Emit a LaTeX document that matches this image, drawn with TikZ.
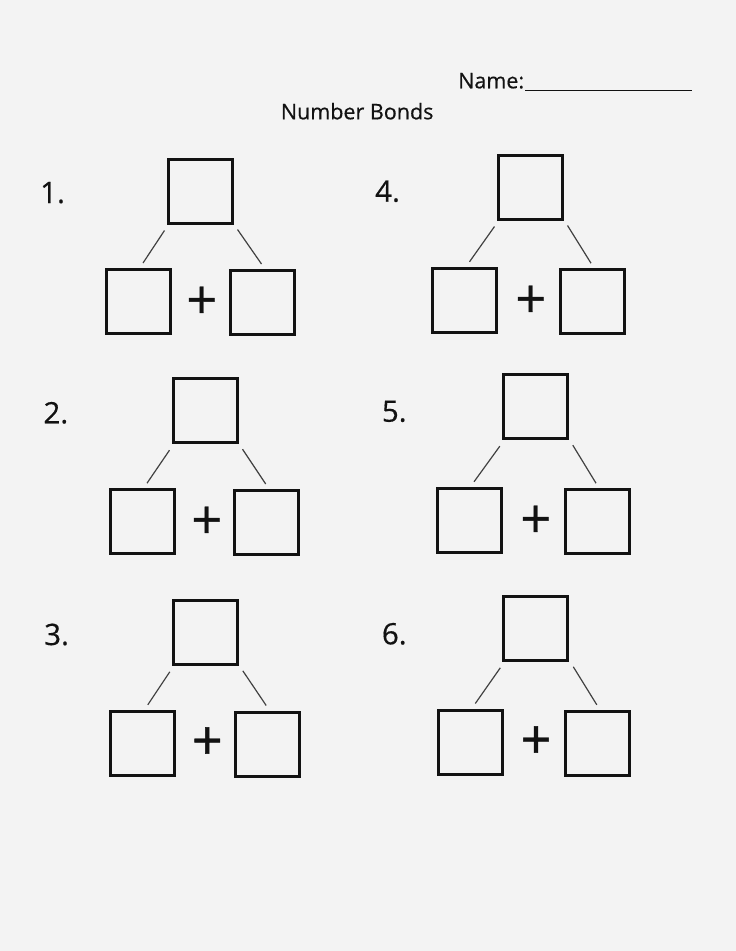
\documentclass[tikz,border=0pt]{standalone}
\usepackage{fontspec}
\setmainfont{Open Sans}[FakeBold=0.5]
\newfontfamily\plusfont{Open Sans}[FakeBold=0.8]
\definecolor{paper}{RGB}{243,243,243}
\definecolor{ink}{RGB}{18,18,18}
\newcommand\mybond[7]{%
  \node[numlbl] (lab#1) at (#3) {#2};
  \node[bx] (t#1) at (#4) {};
  \node[bx] (l#1) at (#5) {};
  \node[bx] (r#1) at (#6) {};
  \node[plussign] (p#1) at (#7) {+};
  \draw[bondline] ([shift={(-2,6)}]t#1.south west) -- ([shift={(5,-5)}]l#1.north);
  \draw[bondline] ([shift={(4,5)}]t#1.south east) -- ([shift={(-1,-5)}]r#1.north);
}
\begin{document}
\begin{tikzpicture}[x=1pt,y=-1pt,
  bx/.style={draw=ink, line width=3pt, minimum width=64pt, minimum height=64pt, inner sep=0pt},
  bondline/.style={draw=ink!80, line width=1.2pt},
  plussign/.style={font=\plusfont\fontsize{54}{54}\selectfont, inner sep=0pt, text=ink, yshift=-3.5pt},
  numlbl/.style={font=\fontsize{29.5}{29.5}\selectfont, anchor=base west, inner sep=0pt, text=ink},
  hdr/.style={font=\fontsize{21.5}{21.5}\selectfont, anchor=base west, inner sep=0pt, text=ink}]
\fill[paper] (0,0) rectangle (736,951);
\useasboundingbox (0,0) rectangle (736,951);
\node[hdr] (name) at (458,88.3) {Name:};
\draw[ink, line width=1.2pt] ([shift={(1,2.4)}]name.base east) -- ++(167,0);
\node[hdr] (title) at (280.7,119.3) {Number Bonds};
\mybond{1}{1.}{40,203}{200,191}{138,301.5}{262.5,302.5}{201.7,299.3}
\mybond{4}{4.}{375,201.7}{530,187}{464.5,300.3}{592,301.7}{530.7,298.3}
\mybond{2}{2.}{43.3,423.3}{205,410.7}{142,521.7}{266.7,522.5}{206.7,519.3}
\mybond{5}{5.}{381.7,421.7}{535.3,406.7}{469,520.3}{597,521.7}{535.7,518.3}
\mybond{3}{3.}{44,645}{205.3,632.3}{142.8,743.3}{267.2,744}{207.3,740}
\mybond{6}{6.}{381.7,644.3}{535.8,628.3}{470.3,742}{597.8,743.3}{536,739}
\end{tikzpicture}
\end{document}
